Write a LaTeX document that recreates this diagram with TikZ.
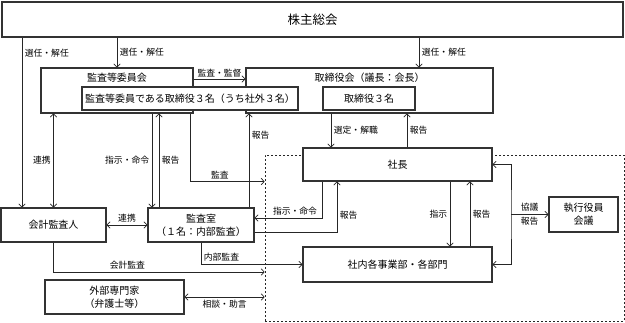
\documentclass[tikz,border=0pt]{standalone}
\usepackage{fontspec}
\setmainfont{Noto Sans CJK JP}
\usetikzlibrary{arrows.meta}
\newcommand{\topfont}{\fontsize{12.5}{14}\selectfont}
\newcommand{\blkfont}{\fontsize{10}{13}\selectfont}
\newcommand{\lblfont}{\fontsize{8.8}{10}\selectfont}
\tikzset{
  wire/.style={draw=black!85, line width=0.7pt},
  frame/.style={draw=black!85, line width=0.7pt, dash pattern=on 2pt off 2pt},
  block/.style={
    draw=black!80,
    fill=white,
    line width=1.1pt,
    align=center,
    inner sep=2pt,
    font=\blkfont
  },
  titlelabel/.style={font=\blkfont, inner sep=0pt},
  smalllabel/.style={font=\lblfont, inner sep=2.5pt}
}

\begin{document}
\begin{tikzpicture}[x=1pt, y=-1pt, >={Straight Barb[length=3pt,width=6.5pt]}]
  \useasboundingbox (0,0) rectangle (625,322);
  % executive side sits inside the dashed frame
  \node[frame, minimum width=359pt, minimum height=166pt] (group) at (444.5,238) {};

  \node[block, minimum width=621pt, minimum height=35pt, font=\topfont] (kabunushi) at (312.5,19.5) {株主総会};
  \node[block, minimum width=152pt, minimum height=45pt] (iinkai) at (117,90.5) {};
  \node[block, minimum width=247pt, minimum height=45pt] (torishimari) at (369.5,90.5) {};
  \node[titlelabel] (iinkaiTitle) at (117,78) {監査等委員会};
  \node[titlelabel] (torishimariTitle) at (369.5,78) {取締役会（議長：会長）};
  \node[block, minimum width=216pt, minimum height=23pt] (iinkaiMembers) at (190,98.5) {監査等委員である取締役３名（うち社外３名）};
  \node[block, minimum width=92pt, minimum height=23pt] (directors) at (369,98.5) {取締役３名};

  \node[block, minimum width=189pt, minimum height=33pt] (shacho) at (397.5,164.5) {社長};
  \node[block, minimum width=189pt, minimum height=35pt] (jigyo) at (397.5,264.5) {社内各事業部・各部門};
  \node[block, minimum width=69pt, minimum height=35pt] (shikko) at (583.5,214.5) {執行役員\\会議};
  \node[block, minimum width=105pt, minimum height=34pt] (kaikei) at (53.5,225) {会計監査人};
  \node[block, minimum width=106pt, minimum height=34pt] (kansashitsu) at (201,225) {監査室\\（１名：内部監査）};
  \node[block, minimum width=139pt, minimum height=34pt] (gaibu) at (114.5,297) {外部専門家\\（弁護士等）};

  \coordinate (xSenL) at (22,0);
  \coordinate (xSenR) at (419,0);
  \coordinate (xShiji) at (152,0);
  \coordinate (xHoukoku) at (159,0);
  \coordinate (xKansa) at (190,0);
  \coordinate (xHoukokuB) at (249,0);
  \coordinate (xSentei) at (331,0);
  \coordinate (xHoukokuC) at (407,0);
  \coordinate (xMeirei) at (322,0);
  \coordinate (xHoukokuD) at (337,0);
  \coordinate (xShijiB) at (450,0);
  \coordinate (xHoukokuE) at (470,0);
  \coordinate (yKaikei) at (0,272);
  \coordinate (bus) at (511,214.5);

  \draw[wire, ->] (kabunushi.south -| xSenL) -- node[smalllabel, anchor=west, pos=0.094] {選任・解任} (kaikei.north -| xSenL);
  \draw[wire, ->] (kabunushi.south -| iinkai.north) -- node[smalllabel, anchor=west] {選任・解任} (iinkai.north);
  \draw[wire, ->] (kabunushi.south -| xSenR) -- node[smalllabel, anchor=west] {選任・解任} (torishimari.north -| xSenR);
  \draw[wire, ->] ([yshift=11.5pt]iinkai.east) -- node[smalllabel, above, inner sep=1pt] {監査・監督} ([yshift=11.5pt]torishimari.west);

  \draw[wire, <->] (iinkai.south -| kaikei.north) -- node[smalllabel, left] {連携} (kaikei.north);
  \draw[wire, ->] (iinkai.south -| xShiji) -- node[smalllabel, left] {指示・命令} (kansashitsu.north -| xShiji);
  \draw[wire, ->] (kansashitsu.north -| xHoukoku) -- node[smalllabel, right] {報告} (iinkai.south -| xHoukoku);
  \draw[wire, ->] (iinkai.south -| xKansa) |- node[smalllabel, above, pos=0.7] {監査} (group.west |- shacho.south);
  \draw[wire, ->] (kansashitsu.north -| xHoukokuB) -- node[smalllabel, right, pos=0.77] {報告} (torishimari.south -| xHoukokuB);

  \draw[wire, ->] (torishimari.south -| xSentei) -- node[smalllabel, right] {選定・解職} (shacho.north -| xSentei);
  \draw[wire, ->] (shacho.north -| xHoukokuC) -- node[smalllabel, right] {報告} (torishimari.south -| xHoukokuC);
  \draw[wire, ->] (shacho.south -| xMeirei) |- node[smalllabel, above, pos=0.7] {指示・命令} ([yshift=7pt]kansashitsu.east);
  \draw[wire, ->] ([yshift=-7pt]kansashitsu.east) -| node[smalllabel, right, pos=0.67] {報告} (shacho.south -| xHoukokuD);
  \draw[wire, ->] (shacho.south -| xShijiB) -- node[smalllabel, left] {指示} (jigyo.north -| xShijiB);
  \draw[wire, ->] (jigyo.north -| xHoukokuE) -- node[smalllabel, right] {報告} (shacho.south -| xHoukokuE);
  \draw[wire, <->] (shacho.east) -| (bus) |- (jigyo.east);
  \draw[wire, ->] (bus) -- node[smalllabel, above] {協議} node[smalllabel, below] {報告} (shikko.west |- bus);

  \draw[wire, <->] (kaikei.east) -- node[smalllabel, above] {連携} (kansashitsu.west);
  \draw[wire, ->] (kaikei.south) |- node[smalllabel, above, pos=0.675] {会計監査} (group.west |- yKaikei);
  \draw[wire, ->] (kansashitsu.south) |- node[smalllabel, right, pos=0.33] {内部監査} (jigyo.west);
  \draw[wire, <->] (gaibu.east) -- node[smalllabel, below] {相談・助言} (gaibu.east -| group.west);
\end{tikzpicture}
\end{document}
